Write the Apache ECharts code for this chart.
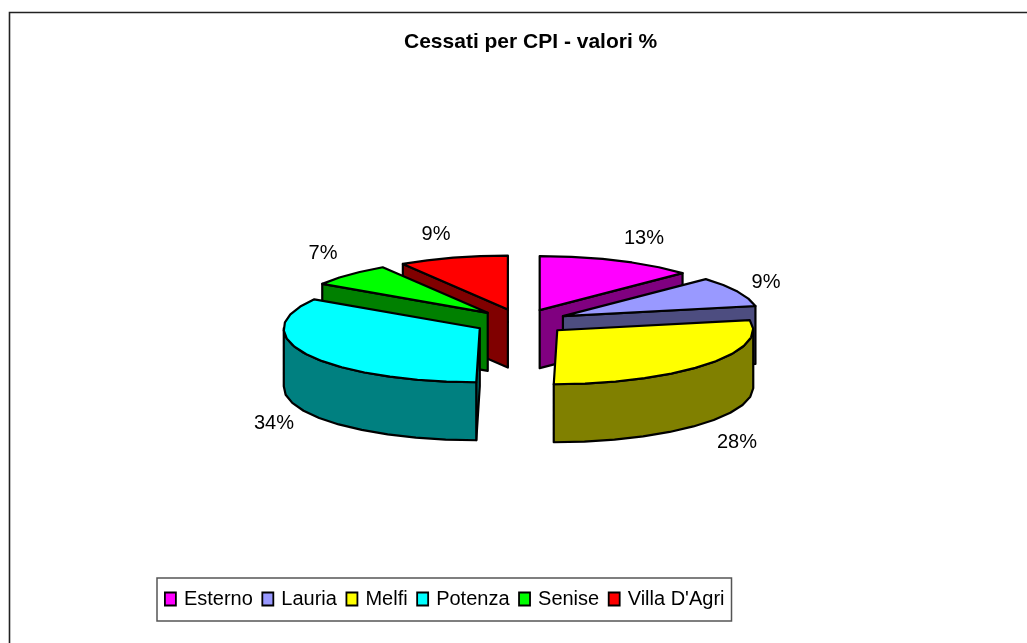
<!DOCTYPE html>
<html><head><meta charset="utf-8">
<style>html,body{margin:0;padding:0;background:#fff}#c{width:1027px;height:643px}</style>
<script src="https://cdn.jsdelivr.net/npm/echarts@6/dist/echarts.min.js"></script>
</head><body><div id="c"></div>
<script>
const categories = ['Esterno','Lauria','Melfi','Potenza','Senise',"Villa D'Agri"];
const percent = [13,9,28,34,7,9];
const topColors = ['#FF00FF','#9999FF','#FFFF00','#00FFFF','#00FF00','#FF0000'];
const sideColors = ['#800080','#4D4D80','#808000','#008080','#008000','#800000'];

// Layout of the tilted pie
const geo = {cx:521, cy:322, rx:196, ry:54, depth:58, explode:0.24, skew:3.5, step:9};
const zOf = [1,3,6,5,4,2];
const labelAt = [[644,238],[766,282],[737,442],[274,423],[323,253],[436,234]];

const total = percent.reduce(function(a,b){return a+b;},0);
const rad = function(d){return d*Math.PI/180;};

function renderSlice(index){
  return function(params, api){
    const value = api.value(0);
    let before = 0;
    for(let i=0;i<index;i++) before += percent[i];
    const a0 = before/total*360, a1 = (before+value)/total*360, mid = (a0+a1)/2;
    const ax = geo.cx + geo.explode*geo.rx*Math.sin(rad(mid));
    const ay = geo.cy - geo.explode*geo.ry*Math.cos(rad(mid));
    const pt = function(a,d){
      const c = Math.cos(rad(a));
      return [ax + geo.rx*Math.sin(rad(a)) + geo.skew*Math.min(c,0), ay - geo.ry*c + (d||0)];
    };
    const arc = function(from,to,d){
      const pts = [];
      const n = Math.max(1,Math.round((to-from)/geo.step));
      for(let k=0;k<=n;k++) pts.push(pt(from+(to-from)*k/n,d));
      return pts;
    };
    const stroke = {stroke:'#000', lineWidth:2.2, lineJoin:'round'};
    const poly = function(points,fill){
      return {type:'polygon', shape:{points:points}, style:Object.assign({fill:fill},stroke)};
    };
    const children = [];
    const side = sideColors[index];
    const apexLow = [ax, ay+geo.depth];
    if(a0>=180) children.push(poly([[ax,ay],pt(a0),pt(a0,geo.depth),apexLow],side));
    if(a1<=179.9) children.push(poly([[ax,ay],pt(a1),pt(a1,geo.depth),apexLow],side));
    const r0 = Math.max(a0,90), r1 = Math.min(a1,270);
    if(r1>r0) children.push(poly(arc(r0,r1,0).concat(arc(r0,r1,geo.depth).reverse()),side));
    children.push(poly([[ax,ay]].concat(arc(a0,a1,0)),topColors[index]));
    children.push({type:'text', style:{text:value+'%', x:labelAt[index][0], y:labelAt[index][1],
      fill:'#000', font:'20px "Liberation Sans"', align:'center', verticalAlign:'middle'}});
    return {type:'group', children:children};
  };
}

const chart = echarts.init(document.getElementById('c'),null,{renderer:'canvas'});
chart.setOption({
  animation:false,
  backgroundColor:'#fff',
  color:topColors,
  title:{text:'Cessati per CPI - valori %', left:404, top:32, padding:0,
    textStyle:{fontFamily:'Liberation Sans', fontWeight:'bold', fontSize:21, color:'#000'}},
  legend:{
    left:157, top:578, orient:'horizontal', data:categories, icon:'rect',
    itemWidth:11, itemHeight:13, itemGap:8.6,
    padding:[11,7,12,7], borderColor:'#555', borderWidth:1.5, backgroundColor:'#fff',
    itemStyle:{borderColor:'#000', borderWidth:1.8},
    textStyle:{fontFamily:'Liberation Sans', fontSize:20, color:'#000', padding:[0,0,0,3]}
  },
  graphic:[{type:'polyline', silent:true, shape:{points:[[9.5,643],[9.5,12.5],[1027,12.5]]},
    style:{stroke:'#222', lineWidth:1.6, fill:null}}],
  series:categories.map(function(name,i){
    return {type:'custom', name:name, coordinateSystem:'none', z:zOf[i]+2, silent:true,
      itemStyle:{color:topColors[i]}, data:[[percent[i]]], renderItem:renderSlice(i)};
  })
});
</script></body></html>
